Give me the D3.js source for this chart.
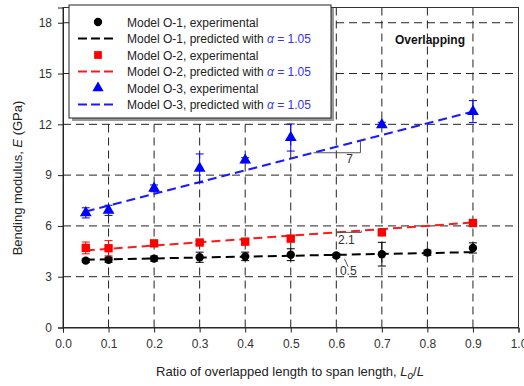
<!DOCTYPE html>
<html lang="en">
  <head>
    <meta charset="UTF-8" />
    <title>Bending modulus vs overlapped length</title>
    <script src="https://d3js.org/d3.v7.min.js"></script>
    <style>
      body { margin: 0; background: #fff; }
      text { font-family: "Liberation Sans", Arial, sans-serif; }
    </style>
  </head>
  <body>
    <svg width="524" height="386"></svg>

    <script>
      // --- data ---
      const xTicks = [0, 0.1, 0.2, 0.3, 0.4, 0.5, 0.6, 0.7, 0.8, 0.9, 1.0];
      const yTicks = [0, 3, 6, 9, 12, 15, 18];

      const o1X = [0.05, 0.1, 0.2, 0.3, 0.4, 0.5, 0.6, 0.7, 0.8, 0.9];
      const o1E = [3.95, 4.0, 4.07, 4.15, 4.2, 4.3, 4.25, 4.33, 4.42, 4.7];
      const o1Err = [0.1, 0.15, 0.15, 0.3, 0.25, 0.35, 0.1, 0.7, 0.15, 0.3];

      const o2X = [0.05, 0.1, 0.2, 0.3, 0.4, 0.5, 0.7, 0.9];
      const o2E = [4.7, 4.68, 4.97, 5.02, 5.07, 5.25, 5.62, 6.17];
      const o2Err = [0.35, 0.45, 0.15, 0.12, 0.12, 0.12, 0.15, 0.12];

      const o3X = [0.05, 0.1, 0.2, 0.3, 0.4, 0.5, 0.7, 0.9];
      const o3E = [6.77, 6.92, 8.22, 9.4, 9.88, 11.22, 11.97, 12.75];
      const o3Err = [0.3, 0.3, 0.2, 0.85, 0.15, 0.8, 0.15, 0.65];

      // predicted lines (alpha = 1.05), end points
      const predX = [0.05, 0.9];
      const pred1 = [4.0, 4.45];
      const pred2 = [4.55, 6.2];
      const pred3 = [6.85, 12.75];

      const legendLabels = [
        "Model O-1, experimental",
        "Model O-1, predicted with ",
        "Model O-2, experimental",
        "Model O-2, predicted with ",
        "Model O-3, experimental",
        "Model O-3, predicted with "
      ];

      const svg = d3.select("svg");
      const blueTxt = "#3333ee";

      const x = d3.scaleLinear().domain([0, 1]).range([63, 518.5]);
      const y = d3.scaleLinear().domain([0, 18.9]).range([327.5, 7.5]);

      // grid lines
      const grid = svg.append("g");
      grid.selectAll(".vg")
        .data(xTicks.slice(1, -1))
        .join("line")
        .attr("x1", d => x(d)).attr("x2", d => x(d))
        .attr("y1", y.range()[0]).attr("y2", y.range()[1])
        .attr("stroke", "#222").attr("stroke-dasharray", "8,5");
      grid.selectAll(".hg")
        .data(yTicks.slice(1))
        .join("line")
        .attr("x1", x.range()[0]).attr("x2", x.range()[1])
        .attr("y1", d => y(d)).attr("y2", d => y(d))
        .attr("stroke", "#222").attr("stroke-dasharray", "8,5");

      // frame
      svg.append("rect")
        .attr("x", x.range()[0]).attr("y", y.range()[1])
        .attr("width", x.range()[1] - x.range()[0])
        .attr("height", y.range()[0] - y.range()[1])
        .attr("fill", "none").attr("stroke", "#333");

      // axes
      const xAxis = svg.append("g")
        .attr("transform", `translate(0,${y(0)})`)
        .call(d3.axisBottom(x).tickValues(xTicks).tickFormat(d3.format(".1f")).tickSize(5));
      const yAxis = svg.append("g")
        .attr("transform", `translate(${x(0)},0)`)
        .call(d3.axisLeft(y).tickValues(yTicks).tickSize(5).tickPadding(6));
      [xAxis, yAxis].forEach(a => {
        a.select(".domain").attr("stroke", "#222");
        a.selectAll(".tick line").attr("stroke", "#222");
        a.selectAll("text").attr("font-size", 12).attr("fill", "#333")
          .attr("font-family", "Liberation Sans, Arial, sans-serif");
      });
      xAxis.selectAll("text").attr("dy", "1.05em");

      // axis titles
      const xt = svg.append("text")
        .attr("x", 290).attr("y", 376)
        .attr("text-anchor", "middle").attr("font-size", 13).attr("fill", "#222");
      xt.append("tspan").text("Ratio of overlapped length to span length, ");
      xt.append("tspan").attr("font-style", "italic").text("L");
      xt.append("tspan").attr("font-style", "italic").attr("font-size", 10).attr("dy", 3).text("o");
      xt.append("tspan").attr("dy", -3).text("/");
      xt.append("tspan").attr("font-style", "italic").text("L");

      const yt = svg.append("text")
        .attr("transform", "translate(22,178) rotate(-90)")
        .attr("text-anchor", "middle").attr("font-size", 13).attr("fill", "#222");
      yt.append("tspan").text("Bending modulus, ");
      yt.append("tspan").attr("font-style", "italic").text("E");
      yt.append("tspan").text(" (GPa)");

      // predicted lines
      const line = d3.line().x(d => x(d[0])).y(d => y(d[1]));
      const preds = [[pred1, "#000"], [pred2, "#ff1a1a"], [pred3, "#1a1aff"]];
      preds.forEach(([vals, c]) => {
        svg.append("path")
          .datum(predX.map((v, i) => [v, vals[i]]))
          .attr("d", line)
          .attr("fill", "none").attr("stroke", c)
          .attr("stroke-width", 2).attr("stroke-dasharray", "9,5");
      });

      // slope annotations
      const predAt = (vals, v) => vals[0] + (vals[1] - vals[0]) * (v - predX[0]) / (predX[1] - predX[0]);
      const ann = svg.append("g").attr("stroke", "#555").attr("fill", "none");
      ann.append("path").attr("d",
        `M${x(0.55)},${y(predAt(pred3, 0.55))}H${x(0.653)}V${y(predAt(pred3, 0.653))}`);
      ann.append("path").attr("d",
        `M${x(0.6)},${y(predAt(pred2, 0.6))}H${x(0.655)}V${y(predAt(pred2, 0.655))}`);
      ann.append("line")
        .attr("x1", x(0.618)).attr("y1", y(predAt(pred1, 0.6)) + 4)
        .attr("x2", x(0.626)).attr("y2", y(predAt(pred1, 0.6)) + 12);
      const annTxt = [["7", 0.622, 9.7], ["2.1", 0.604, 4.95], ["0.5", 0.608, 3.1]];
      svg.selectAll(".annt")
        .data(annTxt)
        .join("text")
        .attr("x", d => x(d[1])).attr("y", d => y(d[2]))
        .attr("font-size", 12).attr("fill", "#333")
        .text(d => d[0]);

      // experimental series with error bars
      const series = [
        { xs: o1X, es: o1E, err: o1Err, color: "#000", shape: d3.symbolCircle, size: 55 },
        { xs: o2X, es: o2E, err: o2Err, color: "#ff0000", shape: d3.symbolSquare, size: 70 },
        { xs: o3X, es: o3E, err: o3Err, color: "#0000ff", shape: d3.symbolTriangle, size: 60 }
      ];
      series.forEach(s => {
        const pts = s.xs.map((v, i) => ({ x: v, e: s.es[i], err: s.err[i] }));
        const g = svg.append("g");
        const eb = g.selectAll(".eb").data(pts).join("g").attr("stroke", s.color);
        eb.append("line")
          .attr("x1", d => x(d.x)).attr("x2", d => x(d.x))
          .attr("y1", d => y(d.e - d.err)).attr("y2", d => y(d.e + d.err));
        eb.append("line")
          .attr("x1", d => x(d.x) - 4).attr("x2", d => x(d.x) + 4)
          .attr("y1", d => y(d.e - d.err)).attr("y2", d => y(d.e - d.err));
        eb.append("line")
          .attr("x1", d => x(d.x) - 4).attr("x2", d => x(d.x) + 4)
          .attr("y1", d => y(d.e + d.err)).attr("y2", d => y(d.e + d.err));
        g.selectAll(".pt").data(pts).join("path")
          .attr("transform", d => `translate(${x(d.x)},${y(d.e)})`)
          .attr("d", d3.symbol(s.shape, s.size))
          .attr("fill", s.color);
      });

      // overlapping label
      svg.append("text")
        .attr("x", 395).attr("y", 44)
        .attr("font-size", 12).attr("font-weight", "bold").attr("fill", "#111")
        .text("Overlapping");

      // legend
      const lg = svg.append("g").attr("transform", "translate(69,5)");
      lg.append("rect").attr("x", 3).attr("y", 3).attr("width", 262).attr("height", 113).attr("fill", "#999");
      lg.append("rect").attr("width", 262).attr("height", 113)
        .attr("fill", "#fff").attr("stroke", "#222");
      const legendItems = [
        { type: "pt", color: "#000", shape: d3.symbolCircle, size: 55 },
        { type: "ln", color: "#000" },
        { type: "pt", color: "#ff0000", shape: d3.symbolSquare, size: 60 },
        { type: "ln", color: "#ff1a1a" },
        { type: "pt", color: "#0000ff", shape: d3.symbolTriangle, size: 55 },
        { type: "ln", color: "#1a1aff" }
      ];
      legendItems.forEach((it, i) => {
        const cy = 17 + i * 16.5;
        if (it.type === "pt") {
          lg.append("path")
            .attr("transform", `translate(29,${cy})`)
            .attr("d", d3.symbol(it.shape, it.size))
            .attr("fill", it.color);
        } else {
          lg.append("line")
            .attr("x1", 9).attr("x2", 45).attr("y1", cy).attr("y2", cy)
            .attr("stroke", it.color).attr("stroke-width", 2)
            .attr("stroke-dasharray", "9,4");
        }
        const t = lg.append("text")
          .attr("x", 58).attr("y", cy + 4.5)
          .attr("font-size", 12).attr("fill", "#222");
        t.append("tspan").text(legendLabels[i]);
        if (it.type === "ln") {
          t.append("tspan").attr("font-style", "italic").attr("fill", blueTxt).text("\u03b1");
          t.append("tspan").attr("fill", blueTxt).text(" = 1.05");
        }
      });
    </script>
  </body>
</html>
